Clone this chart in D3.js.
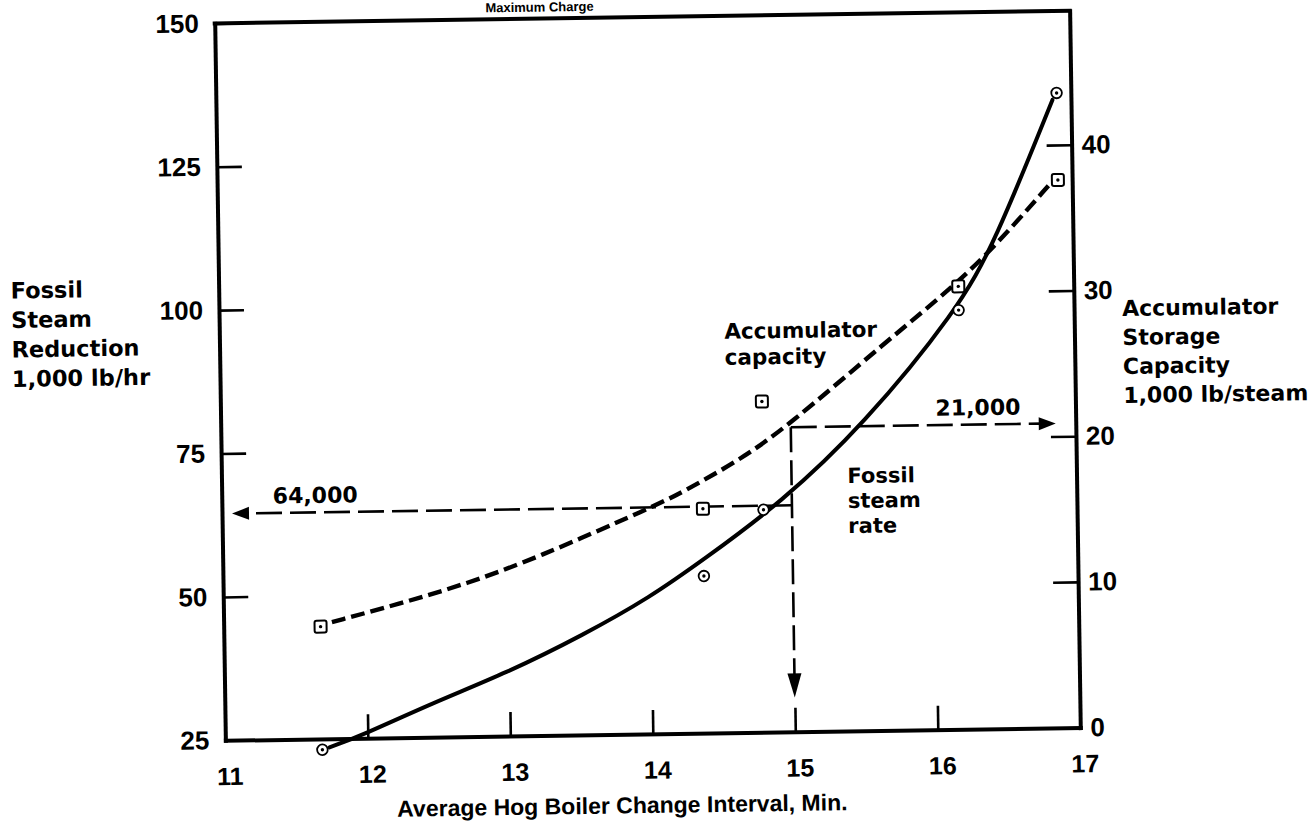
<!DOCTYPE html>
<html><head><meta charset="utf-8">
<script src="https://cdn.jsdelivr.net/npm/d3@7"></script>
<style>
html,body{margin:0;padding:0;background:#fff;}
svg{display:block;}
</style></head><body>
<svg id="chart" width="1316" height="825"></svg>
<script>
// ---------- data ----------
const xTicks = [11, 12, 13, 14, 15, 16, 17];
const leftTicks = [25, 50, 75, 100, 125, 150];
const rightTicks = [0, 10, 20, 30, 40];

const obsInterval = [11.68, 14.375, 14.80, 16.19, 16.90];
const fossilObs   = [23.1, 52.4, 63.8, 98.1, 135.7];
const accumObs    = [7.7, 15.4, 22.7, 30.4, 37.6];

const fossilFitX = [11.73, 11.95, 12.46, 12.98, 13.52, 14.0, 14.37, 14.92, 15.51, 16.18, 16.45, 16.87];
const fossilFitY = [23.5, 25.4, 31.0, 36.0, 42.4, 48.9, 55.2, 64.9, 78.3, 98.1, 109.7, 134.5];
const accumFitX  = [11.76, 12.24, 12.71, 13.18, 14.05, 14.22, 14.62, 14.97, 15.68, 16.16, 16.49, 16.85];
const accumFitY  = [8.0, 9.2, 10.5, 12.1, 15.7, 16.5, 18.6, 20.9, 26.7, 30.4, 33.5, 37.4];

const readInterval = 15;
const readFossil = 64.5;      // left-axis units
const readAccum = 20.9;       // right-axis units
const readArrowEnd = 31;      // left-axis units, tip of the down arrow
const readFossilLabel = "64,000";
const readAccumLabel = "21,000";

const titleText = "Maximum Charge";
const xTitle = "Average Hog Boiler Change Interval, Min.";
const leftTitle = ["Fossil", "Steam", "Reduction", "1,000 lb/hr"];
const rightTitle = ["Accumulator", "Storage", "Capacity", "1,000 lb/steam"];
const accumLabel = ["Accumulator", "capacity"];
const fossilLabel = ["Fossil", "steam", "rate"];

// ---------- layout ----------
const svg = d3.select("#chart");
const g = svg.append("g").attr("transform", "rotate(-0.85,648,376)");

const X0 = 220, X1 = 1075, Y0 = 734, Y1 = 17;
const x = d3.scaleLinear().domain([11, 17]).range([X0, X1]);
const yL = d3.scaleLinear().domain([25, 150]).range([Y0, Y1]);
const yR = d3.scaleLinear().domain([0, 49.2]).range([Y0, Y1]);

const numFont = "'Liberation Sans', Arial, Helvetica, sans-serif";
const lblFont = "'DejaVu Sans', 'Open Sans', sans-serif";

function styleAxis(sel, size) {
  sel.attr("font-family", numFont).attr("font-size", size).attr("font-weight", "bold");
  sel.selectAll("text").attr("fill", "#000");
  sel.selectAll(".tick line").attr("stroke", "#000").attr("stroke-width", 2.6);
  sel.select(".domain").attr("stroke", "#000").attr("stroke-width", 4).attr("stroke-linecap", "square");
}

// bottom axis
const gx = g.append("g").attr("transform", `translate(0,${Y0})`)
  .call(d3.axisBottom(x).tickValues(xTicks).tickFormat(d3.format("d"))
    .tickSize(-24).tickSizeOuter(0).tickPadding(27));
styleAxis(gx, 25);
gx.selectAll(".tick text").attr("dx", 4);

// left axis
const gl = g.append("g").attr("transform", `translate(${X0},0)`)
  .call(d3.axisLeft(yL).tickValues(leftTicks).tickFormat(d3.format("d"))
    .tickSize(-25).tickSizeOuter(0).tickPadding(16));
styleAxis(gl, 26);

// right axis
const gr = g.append("g").attr("transform", `translate(${X1},0)`)
  .call(d3.axisRight(yR).tickValues(rightTicks).tickFormat(d3.format("d"))
    .tickSize(-25).tickSizeOuter(0).tickPadding(10));
styleAxis(gr, 26);

// top frame line
g.append("line").attr("x1", X0).attr("x2", X1).attr("y1", Y1).attr("y2", Y1)
  .attr("stroke", "#000").attr("stroke-width", 4).attr("stroke-linecap", "square");

// ---------- fitted curves ----------
const lineL = d3.line().x(d => x(d[0])).y(d => yL(d[1])).curve(d3.curveBasis);
const lineR = d3.line().x(d => x(d[0])).y(d => yR(d[1])).curve(d3.curveBasis);

g.append("path").datum(d3.zip(fossilFitX, fossilFitY)).attr("d", lineL)
  .attr("fill", "none").attr("stroke", "#000").attr("stroke-width", 4).attr("stroke-linecap", "round");
g.append("path").datum(d3.zip(accumFitX, accumFitY)).attr("d", lineR)
  .attr("fill", "none").attr("stroke", "#000").attr("stroke-width", 4.4)
  .attr("stroke-dasharray", "14,6");

// ---------- reading lines ----------
const xr = x(readInterval), yAcc = yR(readAccum), yFos = yL(readFossil);
const ann = g.append("g").attr("stroke", "#000").attr("stroke-width", 2.6).attr("fill", "none");
// 64,000 to left axis
const leftTip = X0 + 10;
ann.append("line").attr("x1", xr).attr("y1", yFos).attr("x2", leftTip + 14).attr("y2", yFos)
  .attr("stroke-dasharray", "26,8");
g.append("path").attr("d", `M${leftTip},${yFos} l17,-6.5 l0,13 z`).attr("fill", "#000");
// 21,000 to right axis
const rightTip = X1 - 20;
ann.append("line").attr("x1", xr).attr("y1", yAcc).attr("x2", rightTip - 14).attr("y2", yAcc)
  .attr("stroke-dasharray", "26,8");
g.append("path").attr("d", `M${rightTip},${yAcc} l-17,-6.5 l0,13 z`).attr("fill", "#000");
// down arrow at 15
const downTip = yL(readArrowEnd);
ann.append("line").attr("x1", xr).attr("y1", yAcc).attr("x2", xr).attr("y2", downTip - 16)
  .attr("stroke-dasharray", "25,8");
g.append("path").attr("d", `M${xr},${downTip} l-7,-24 l14,0 z`).attr("fill", "#000");

// ---------- observed points ----------
const pts = d3.zip(obsInterval, fossilObs, accumObs);
const pc = g.append("g").selectAll("g").data(pts).join("g")
  .attr("transform", d => `translate(${x(d[0])},${yL(d[1])})`);
pc.append("circle").attr("r", 5.3).attr("fill", "#fff").attr("stroke", "#000").attr("stroke-width", 1.8);
pc.append("circle").attr("r", 1.7).attr("fill", "#000");

const ps = g.append("g").selectAll("g").data(pts).join("g")
  .attr("transform", d => `translate(${x(d[0])},${yR(d[2])})`);
ps.append("rect").attr("x", -6).attr("y", -6).attr("width", 12).attr("height", 12).attr("rx", 2)
  .attr("fill", "#fff").attr("stroke", "#000").attr("stroke-width", 2);
ps.append("circle").attr("r", 1.7).attr("fill", "#000");

// ---------- text ----------
function block(lines, x0, y0, step, size) {
  lines.forEach((s, i) => g.append("text")
    .attr("x", x0).attr("y", y0 + i * step)
    .attr("font-family", lblFont).attr("font-weight", "bold")
    .attr("font-size", size).attr("fill", "#000").text(s));
}
block(leftTitle, 12, 289, 29.5, 22.5);
block(rightTitle, 1123, 323, 29, 22);
block(accumLabel, 725, 340, 26, 21.5);
block(fossilLabel, 846, 486, 25, 21);
block([readAccumLabel], 935, 420, 0, 22);
block([readFossilLabel], 271, 498, 0, 22);

g.append("text").attr("x", 616).attr("y", 813).attr("text-anchor", "middle")
  .attr("font-family", numFont).attr("font-weight", "bold").attr("font-size", 23).text(xTitle);
g.append("text").attr("x", 545).attr("y", 10).attr("text-anchor", "middle")
  .attr("font-family", numFont).attr("font-weight", "bold").attr("font-size", 13).text(titleText);
</script>
</body></html>
